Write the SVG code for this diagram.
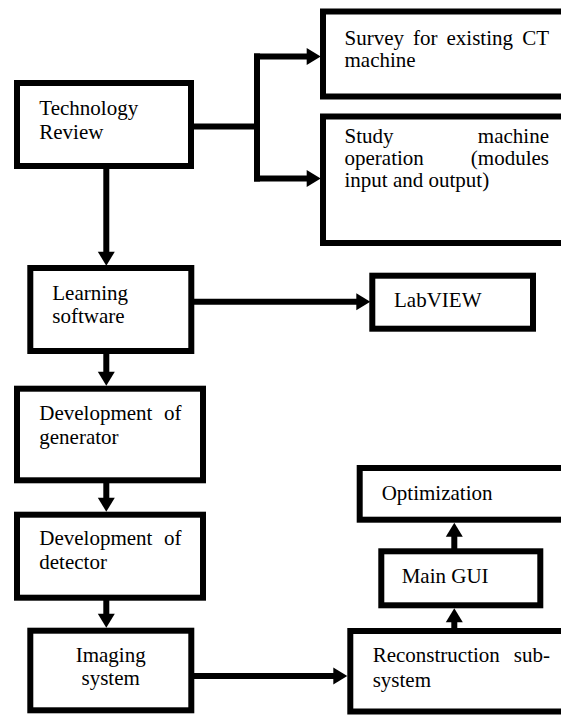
<svg xmlns="http://www.w3.org/2000/svg" width="561" height="715" viewBox="0 0 561 715">
<style>
  .box { fill: #ffffff; stroke: #000000; stroke-width: 6; }
  .lbl { font-size: 21px; fill: #000000; }
  .end { text-anchor: end; }
  .mid { text-anchor: middle; }
  .wire { fill: none; stroke: #000000; stroke-width: 6; stroke-linejoin: miter; }
</style>
<defs>
  <marker id="ah" markerUnits="userSpaceOnUse" markerWidth="15" markerHeight="18" refX="1" refY="8.5" orient="auto" overflow="visible">
    <path d="M0,0 L14,8.5 L0,17 Z" fill="#000000"/>
  </marker>
</defs>
<rect width="561" height="715" fill="#ffffff"/>

<g id="connectors">
  <line class="wire" x1="106.3" y1="166" x2="106.3" y2="252.7" marker-end="url(#ah)"/>
  <line class="wire" x1="191" y1="126.5" x2="257" y2="126.5"/>
  <line class="wire" x1="257" y1="53.5" x2="257" y2="181.5"/>
  <line class="wire" x1="254" y1="56.5" x2="307.7" y2="56.5" marker-end="url(#ah)"/>
  <line class="wire" x1="254" y1="178.5" x2="307.7" y2="178.5" marker-end="url(#ah)"/>
  <line class="wire" x1="191" y1="301.7" x2="357.3" y2="301.7" marker-end="url(#ah)"/>
  <line class="wire" x1="106.3" y1="351" x2="106.3" y2="372.7" marker-end="url(#ah)"/>
  <line class="wire" x1="106.3" y1="480" x2="106.3" y2="498.7" marker-end="url(#ah)"/>
  <line class="wire" x1="106.3" y1="597" x2="106.3" y2="614.7" marker-end="url(#ah)"/>
  <line class="wire" x1="191" y1="676" x2="334.3" y2="676" marker-end="url(#ah)"/>
  <line class="wire" x1="454.3" y1="631" x2="454.3" y2="621.3" marker-end="url(#ah)"/>
  <line class="wire" x1="454.3" y1="551" x2="454.3" y2="535.7" marker-end="url(#ah)"/>
</g>

<g font-family="'Liberation Serif', 'DejaVu Serif', serif">
<g id="technology-review">
  <rect class="box" x="17" y="83" width="174" height="83"/>
  <text class="lbl" x="39.3" y="115">Technology</text>
  <text class="lbl" x="39.3" y="139.3">Review</text>
</g>

<g id="survey">
  <rect class="box" x="323" y="11.5" width="260" height="85"/>
  <text class="lbl" x="344.5" y="45">Survey</text>
  <text class="lbl" x="413" y="45">for</text>
  <text class="lbl" x="446.5" y="45">existing</text>
  <text class="lbl end" x="549" y="45">CT</text>
  <text class="lbl" x="344.5" y="67">machine</text>
</g>

<g id="study">
  <rect class="box" x="323" y="116.5" width="260" height="126.5"/>
  <text class="lbl" x="344.5" y="143.3">Study</text>
  <text class="lbl end" x="549" y="143.3">machine</text>
  <text class="lbl" x="344.5" y="165.3">operation</text>
  <text class="lbl end" x="549" y="165.3">(modules</text>
  <text class="lbl" x="344.5" y="187.3">input and output)</text>
</g>

<g id="learning-software">
  <rect class="box" x="30.3" y="268" width="161" height="83"/>
  <text class="lbl" x="52.3" y="300">Learning</text>
  <text class="lbl" x="52.3" y="323.3">software</text>
</g>

<g id="labview">
  <rect class="box" x="372.3" y="275.7" width="160.7" height="53"/>
  <text class="lbl" x="394" y="306.7">LabVIEW</text>
</g>

<g id="development-generator">
  <rect class="box" x="17" y="388.7" width="186" height="91.6"/>
  <text class="lbl" x="39.3" y="420">Development</text>
  <text class="lbl end" x="181.5" y="420">of</text>
  <text class="lbl" x="39.3" y="444">generator</text>
</g>

<g id="development-detector">
  <rect class="box" x="17" y="514.7" width="186" height="83"/>
  <text class="lbl" x="39.3" y="545">Development</text>
  <text class="lbl end" x="181.5" y="545">of</text>
  <text class="lbl" x="39.3" y="569">detector</text>
</g>

<g id="imaging-system">
  <rect class="box" x="30.3" y="630.7" width="161" height="79.6"/>
  <text class="lbl mid" x="110.7" y="661.7">Imaging</text>
  <text class="lbl mid" x="110.7" y="685">system</text>
</g>

<g id="reconstruction">
  <rect class="box" x="350.3" y="631" width="240" height="80.5"/>
  <text class="lbl" x="372.7" y="661.7">Reconstruction</text>
  <text class="lbl end" x="550" y="661.7">sub-</text>
  <text class="lbl" x="372.7" y="687">system</text>
</g>

<g id="main-gui">
  <rect class="box" x="381.3" y="551.3" width="159" height="54"/>
  <text class="lbl" x="401.7" y="583.3">Main GUI</text>
</g>

<g id="optimization">
  <rect class="box" x="359.7" y="468" width="230" height="51.7"/>
  <text class="lbl" x="381.7" y="500">Optimization</text>
</g>
</g>
</svg>
